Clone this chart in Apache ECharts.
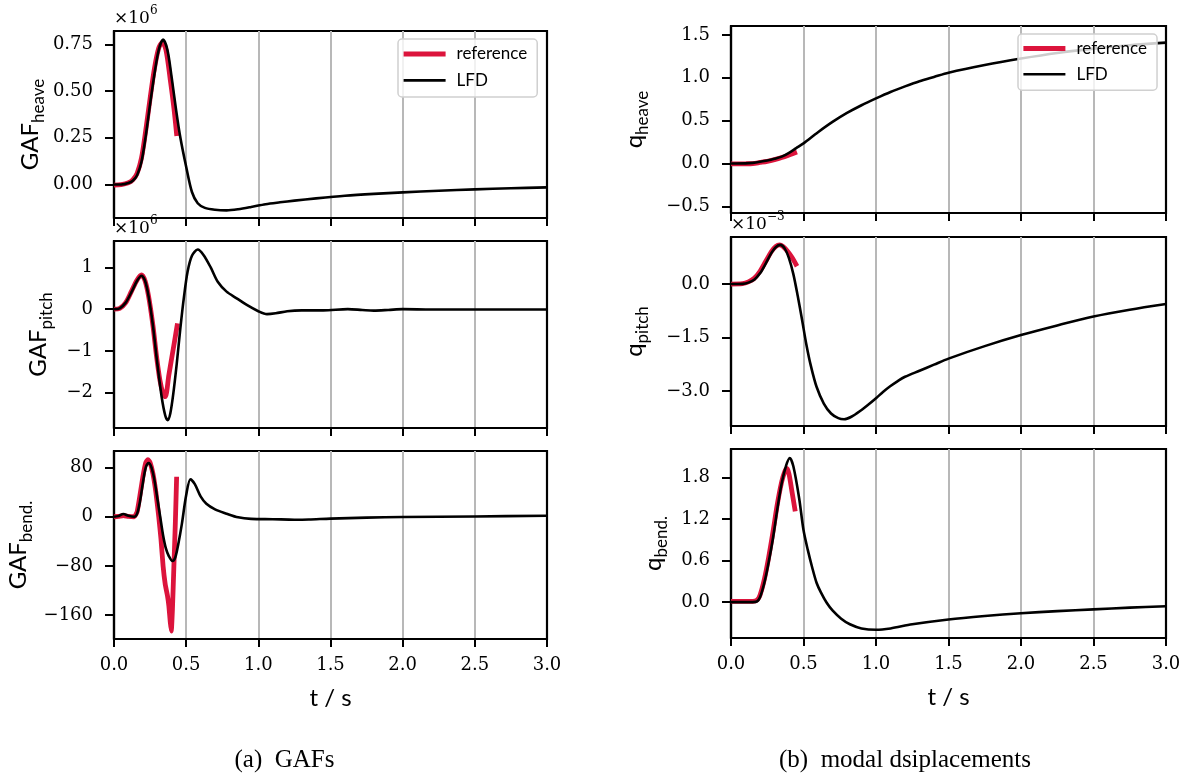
<!DOCTYPE html>
<html>
<head>
<meta charset="utf-8">
<script src="https://cdn.jsdelivr.net/npm/echarts@6/dist/echarts.min.js"></script>
<style>
  html, body { margin: 0; padding: 0; background: #fff; }
  #chart { width: 1192px; height: 779px; }
</style>
</head>
<body>
<div id="chart"></div>
<script>
// ---- time axis (s) ----
const timeTicks = [0, 0.5, 1, 1.5, 2, 2.5, 3];

// ---- y tick values per panel ----
const gafHeaveTicks = [0, 0.25, 0.5, 0.75];
const gafPitchTicks = [-2, -1, 0, 1];
const gafBendTicks = [-160, -80, 0, 80];
const qHeaveTicks = [-0.5, 0, 0.5, 1, 1.5];
const qPitchTicks = [-3, -1.5, 0];
const qBendTicks = [0, 0.6, 1.2, 1.8];

// ---- GAF heave (x1e6) ----
const gafHeaveLfdT = [0, 0.05, 0.1, 0.13, 0.16, 0.19, 0.22, 0.25, 0.28, 0.31, 0.34, 0.37, 0.4, 0.43, 0.46, 0.5, 0.54, 0.58, 0.63, 0.7, 0.78, 0.86, 0.95, 1.05, 1.15, 1.25, 1.4, 1.6, 1.8, 2.0, 2.25, 2.5, 2.75, 3.0];
const gafHeaveLfd = [0, 0, 0.008, 0.02, 0.05, 0.12, 0.26, 0.43, 0.59, 0.72, 0.775, 0.72, 0.57, 0.4, 0.25, 0.095, -0.04, -0.1, -0.125, -0.135, -0.138, -0.132, -0.12, -0.105, -0.095, -0.086, -0.074, -0.06, -0.05, -0.042, -0.033, -0.026, -0.02, -0.015];
const gafHeaveRefT = [0, 0.05, 0.1, 0.13, 0.16, 0.19, 0.22, 0.25, 0.28, 0.31, 0.335, 0.36, 0.39, 0.415, 0.435];
const gafHeaveRef = [-0.003, 0, 0.01, 0.025, 0.06, 0.14, 0.29, 0.46, 0.62, 0.73, 0.76, 0.72, 0.56, 0.41, 0.26];

// ---- GAF pitch (x1e6) ----
const gafPitchLfdT = [0, 0.04, 0.08, 0.12, 0.16, 0.19, 0.215, 0.24, 0.27, 0.3, 0.33, 0.355, 0.372, 0.39, 0.41, 0.435, 0.46, 0.485, 0.51, 0.54, 0.58, 0.62, 0.67, 0.72, 0.78, 0.85, 0.92, 1.0, 1.06, 1.12, 1.2, 1.3, 1.45, 1.62, 1.72, 1.8, 1.9, 2.0, 2.2, 2.5, 3.0];
const gafPitchLfd = [0, 0.02, 0.15, 0.4, 0.68, 0.8, 0.68, 0.3, -0.4, -1.3, -2.1, -2.55, -2.66, -2.5, -2.05, -1.3, -0.45, 0.3, 0.9, 1.28, 1.43, 1.3, 1.0, 0.65, 0.42, 0.26, 0.1, -0.05, -0.12, -0.1, -0.05, -0.03, -0.03, 0, -0.02, -0.035, -0.02, 0, -0.01, -0.01, -0.01];
const gafPitchRefT = [0, 0.04, 0.08, 0.12, 0.16, 0.19, 0.215, 0.24, 0.27, 0.295, 0.318, 0.338, 0.355, 0.38, 0.4, 0.42, 0.44];
const gafPitchRef = [0, 0.02, 0.15, 0.42, 0.7, 0.82, 0.68, 0.3, -0.4, -1.14, -1.7, -2.0, -2.1, -1.58, -1.17, -0.76, -0.34];

// ---- GAF bending ----
const gafBendLfdT = [0, 0.03, 0.065, 0.1, 0.14, 0.16, 0.18, 0.2, 0.22, 0.24, 0.26, 0.28, 0.3, 0.32, 0.34, 0.36, 0.38, 0.405, 0.425, 0.445, 0.47, 0.5, 0.53, 0.56, 0.6, 0.64, 0.7, 0.78, 0.86, 0.95, 1.1, 1.25, 1.35, 1.5, 1.75, 2.0, 2.5, 3.0];
const gafBendLfd = [0, 1, 4.5, 1.5, 0, 5, 25, 55, 80, 87.5, 80, 60, 30, 0, -30, -52, -64, -72, -66, -45, -12, 35, 61, 53, 33, 21, 12, 5, -1, -3.5, -4, -4.8, -4.5, -3, -1.5, -0.5, 0.5, 1.5];
const gafBendRefT = [0, 0.03, 0.065, 0.1, 0.14, 0.16, 0.18, 0.2, 0.22, 0.235, 0.25, 0.27, 0.29, 0.31, 0.325, 0.34, 0.355, 0.37, 0.38, 0.39, 0.397, 0.405, 0.415, 0.425, 0.434];
const gafBendRef = [0, 0.5, 2, 0.5, 0, 8, 35, 65, 88, 93, 88, 70, 40, 0, -35, -80, -110, -128, -145, -172, -186, -150, -80, -10, 65];

// ---- q heave ----
const qHeaveLfdT = [0, 0.1, 0.15, 0.2, 0.25, 0.3, 0.35, 0.4, 0.45, 0.5, 0.6, 0.7, 0.8, 0.9, 1.0, 1.1, 1.2, 1.3, 1.4, 1.5, 1.75, 2.0, 2.25, 2.5, 2.75, 3.0];
const qHeaveLfd = [0, 0.002, 0.008, 0.02, 0.035, 0.055, 0.08, 0.125, 0.18, 0.235, 0.365, 0.485, 0.59, 0.68, 0.76, 0.835, 0.9, 0.96, 1.01, 1.06, 1.15, 1.225, 1.29, 1.34, 1.38, 1.41];
const qHeaveRefT = [0, 0.1, 0.15, 0.2, 0.25, 0.3, 0.35, 0.4, 0.455];
const qHeaveRef = [-0.005, -0.003, 0, 0.012, 0.025, 0.045, 0.07, 0.1, 0.135];

// ---- q pitch (x1e-3) ----
const qPitchLfdT = [0, 0.08, 0.12, 0.16, 0.2, 0.24, 0.28, 0.31, 0.34, 0.37, 0.4, 0.43, 0.46, 0.49, 0.52, 0.55, 0.59, 0.64, 0.69, 0.74, 0.78, 0.83, 0.89, 0.95, 1.0, 1.05, 1.1, 1.15, 1.2, 1.3, 1.4, 1.5, 1.75, 2.0, 2.25, 2.5, 2.75, 3.0];
const qPitchLfd = [0, 0.005, 0.04, 0.12, 0.3, 0.58, 0.88, 1.04, 1.1, 1.0, 0.72, 0.28, -0.33, -1.0, -1.7, -2.28, -2.88, -3.35, -3.63, -3.76, -3.79, -3.72, -3.56, -3.37, -3.2, -3.02, -2.86, -2.72, -2.6, -2.43, -2.26, -2.09, -1.74, -1.43, -1.16, -0.91, -0.72, -0.56];
const qPitchRefT = [0, 0.08, 0.12, 0.16, 0.2, 0.24, 0.28, 0.31, 0.335, 0.36, 0.39, 0.42, 0.455];
const qPitchRef = [0, 0.01, 0.06, 0.16, 0.36, 0.64, 0.92, 1.06, 1.1, 1.05, 0.92, 0.75, 0.5];

// ---- q bending ----
const qBendLfdT = [0, 0.15, 0.18, 0.2, 0.23, 0.26, 0.29, 0.32, 0.35, 0.38, 0.405, 0.43, 0.47, 0.5, 0.53, 0.56, 0.59, 0.62, 0.66, 0.7, 0.76, 0.82, 0.9, 1.0, 1.1, 1.25, 1.5, 1.75, 2.0, 2.25, 2.5, 2.75, 3.0];
const qBendLfd = [0, 0, 0.01, 0.07, 0.28, 0.58, 0.93, 1.35, 1.72, 1.97, 2.08, 1.96, 1.5, 1.04, 0.75, 0.5, 0.28, 0.14, -0.01, -0.12, -0.24, -0.32, -0.38, -0.4, -0.38, -0.32, -0.25, -0.2, -0.16, -0.13, -0.105, -0.08, -0.06];
const qBendRefT = [0, 0.15, 0.18, 0.2, 0.23, 0.26, 0.29, 0.32, 0.35, 0.37, 0.385, 0.4, 0.42, 0.443];
const qBendRef = [0.01, 0.01, 0.03, 0.1, 0.33, 0.65, 1.02, 1.42, 1.74, 1.88, 1.93, 1.85, 1.6, 1.31];

const seriesNames = ['reference', 'LFD'];
const axisNames = [['GAF', 'heave'], ['GAF', 'pitch'], ['GAF', 'bend.'], ['q', 'heave'], ['q', 'pitch'], ['q', 'bend.']];

// ---- layout / style ----
const RED = '#DC143C';
const SERIF = '"DejaVu Serif", serif';
const SANS = 'Lato, "DejaVu Sans", sans-serif';

const panels = [
  { left: 114, top: 31,  width: 433, height: 187, min: -0.179, max: 0.821, ticks: gafHeaveTicks, dec: 2, gap: 72, xLabels: false,
    lfd: [gafHeaveLfdT, gafHeaveLfd], ref: [gafHeaveRefT, gafHeaveRef] },
  { left: 114, top: 241, width: 433, height: 187, min: -2.85, max: 1.634, ticks: gafPitchTicks, dec: 0, gap: 64, xLabels: false,
    lfd: [gafPitchLfdT, gafPitchLfd], ref: [gafPitchRefT, gafPitchRef] },
  { left: 114, top: 451, width: 433, height: 188, min: -199, max: 107, ticks: gafBendTicks, dec: 0, gap: 84, xLabels: true,
    lfd: [gafBendLfdT, gafBendLfd], ref: [gafBendRefT, gafBendRef] },
  { left: 731, top: 26,  width: 435, height: 187, min: -0.577, max: 1.604, ticks: qHeaveTicks, dec: 1, gap: 85, xLabels: false,
    lfd: [qHeaveLfdT, qHeaveLfd], ref: [qHeaveRefT, qHeaveRef] },
  { left: 731, top: 237, width: 435, height: 189, min: -3.98, max: 1.32, ticks: qPitchTicks, dec: 1, gap: 85, xLabels: false,
    lfd: [qPitchLfdT, qPitchLfd], ref: [qPitchRefT, qPitchRef] },
  { left: 731, top: 449, width: 435, height: 189, min: -0.518, max: 2.21, ticks: qBendTicks, dec: 1, gap: 66, xLabels: true,
    lfd: [qBendLfdT, qBendLfd], ref: [qBendRefT, qBendRef] }
];

const pairs = (t, v) => t.map((x, i) => [x, v[i]]);
const fmt = (v, d) => v.toFixed(d).replace('-', '\u2212');

const grids = [], xAxes = [], yAxes = [], series = [];
panels.forEach((p, i) => {
  grids.push({
    left: p.left, top: p.top, width: p.width, height: p.height,
    show: true, borderColor: '#000', borderWidth: 2.2, backgroundColor: 'transparent'
  });
  xAxes.push({
    type: 'value', gridIndex: i, min: timeTicks[0], max: timeTicks[timeTicks.length - 1], interval: 0.5,
    axisLine: { show: true, onZero: false, lineStyle: { color: '#000', width: 2.2 } },
    axisTick: { show: true, inside: false, length: 8, lineStyle: { color: '#000', width: 2 } },
    axisLabel: {
      show: p.xLabels, margin: 17, color: '#000', fontFamily: SERIF, fontSize: 18,
      formatter: v => fmt(v, 1)
    },
    splitLine: { show: true, showMinLine: false, showMaxLine: false, lineStyle: { color: '#b8b8b8', width: 2 } },
    name: p.xLabels ? 't / s' : '',
    nameLocation: 'middle', nameGap: 47,
    nameTextStyle: { fontFamily: SANS, fontSize: 24, color: '#000' }
  });
  yAxes.push({
    type: 'value', gridIndex: i, min: p.min, max: p.max,
    axisLine: { show: true, onZero: false, lineStyle: { color: '#000', width: 2.2 } },
    axisTick: { show: true, inside: false, length: 9, customValues: p.ticks, lineStyle: { color: '#000', width: 2 } },
    axisLabel: {
      show: true, margin: 21, customValues: p.ticks, color: '#000', fontFamily: SERIF, fontSize: 18,
      formatter: v => fmt(v, p.dec)
    },
    splitLine: { show: false },
    name: '{m|' + axisNames[i][0] + '}{s|' + axisNames[i][1] + '}',
    nameLocation: 'middle', nameRotate: 90, nameGap: p.gap, nameMoveOverlap: false,
    nameTextStyle: {
      color: '#000',
      rich: {
        m: { fontFamily: SANS, fontSize: 24, color: '#000', verticalAlign: 'top', lineHeight: 24 },
        s: { fontFamily: SANS, fontSize: 17, color: '#000', verticalAlign: 'top', lineHeight: 17, padding: [12, 0, 0, 0] }
      }
    }
  });
  series.push({
    name: seriesNames[0], type: 'line', xAxisIndex: i, yAxisIndex: i,
    data: pairs(p.ref[0], p.ref[1]), showSymbol: false, symbol: 'none',
    smooth: i === 2 ? 0.15 : 0.3, color: RED, itemStyle: { color: RED },
    lineStyle: { color: RED, width: 4.8, cap: 'butt', join: 'round' }, z: 2, animation: false
  });
  series.push({
    name: seriesNames[1], type: 'line', xAxisIndex: i, yAxisIndex: i,
    data: pairs(p.lfd[0], p.lfd[1]), showSymbol: false, symbol: 'none',
    smooth: 0.3, color: '#000', itemStyle: { color: '#000' },
    lineStyle: { color: '#000', width: 2.6, join: 'round' }, z: 3, animation: false
  });
});

const legendData = [
  { name: seriesNames[0], icon: 'path://M0,0H42V4.8H0Z', itemStyle: { color: RED } },
  { name: seriesNames[1], icon: 'path://M0,0H42V2.6H0Z', itemStyle: { color: '#000' } }
];
const legendBase = {
  orient: 'vertical', itemWidth: 42, itemHeight: 14, selectedMode: false,
  backgroundColor: 'rgba(255,255,255,0.8)', borderColor: '#d0d0d0', borderWidth: 1.5, borderRadius: 4,
  textStyle: { fontFamily: SANS, fontSize: 17, color: '#000', padding: [0, 0, 0, 6] },
  data: legendData
};

// offset multipliers above panels
const powRich = {
  a: { fontFamily: SERIF, fontSize: 17, fill: '#000', verticalAlign: 'bottom', padding: [5, 0, 0, 0] },
  b: { fontFamily: SERIF, fontSize: 12, fill: '#000', verticalAlign: 'top' }
};
const powText = (x, y, exp) => ({
  type: 'text', x: x, y: y, z: 10,
  style: { text: '{a|\u00d710}{b|' + exp + '}', rich: powRich, verticalAlign: 'bottom', textVerticalAlign: 'bottom', align: 'left' }
});
const caption = (x, text) => ({
  type: 'text', x: x, y: 760, z: 10,
  style: { text: text, font: '25px "Liberation Serif", serif', fill: '#000',
           align: 'center', textAlign: 'center', verticalAlign: 'middle', textVerticalAlign: 'middle' }
});

const chart = echarts.init(document.getElementById('chart'), null, { renderer: 'canvas' });
chart.setOption({
  animation: false,
  backgroundColor: '#fff',
  grid: grids,
  xAxis: xAxes,
  yAxis: yAxes,
  series: series,
  legend: [
    Object.assign({}, legendBase, { left: 398, top: 39, padding: [6.5, 10, 8, 5.6], itemGap: 9.4 }),
    Object.assign({}, legendBase, { left: 1018, top: 34, padding: [6, 10, 7.5, 5.4], itemGap: 8.7 })
  ],
  graphic: [
    powText(114, 27, '6'),
    powText(114, 237, '6'),
    powText(731, 233, '\u22123'),
    caption(284.5, '(a)  GAFs'),
    caption(905, '(b)  modal dsiplacements')
  ]
});
</script>
</body>
</html>
